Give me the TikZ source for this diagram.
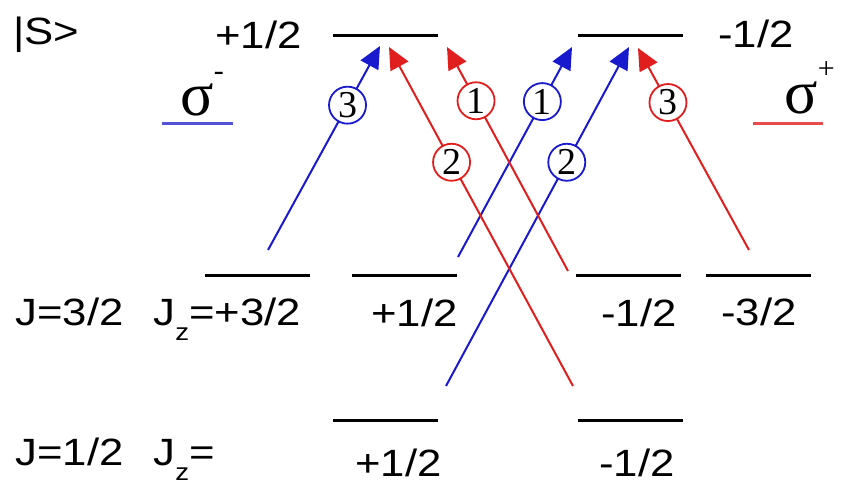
\documentclass[tikz,border=0pt]{standalone}
\usepackage{fontspec}
\setmainfont{Liberation Sans}[FakeStretch=1.15]
\newfontfamily\serifgr{Liberation Serif}
\usetikzlibrary{arrows.meta}
\definecolor{sminus}{RGB}{25,25,205}
\definecolor{splus}{RGB}{225,30,30}

\begin{document}
\begin{tikzpicture}[x=0.5pt,y=-0.5pt,>={Triangle[length=11pt,width=10pt]},
  lvl/.style={fill=black,minimum width=52.5pt,minimum height=1.5pt,inner sep=0pt,outer sep=0pt},
  lab/.style={anchor=base west,inner sep=0pt,font=\fontsize{19}{22}\selectfont},
  sig/.style={anchor=base west,inner sep=0pt,font=\serifgr\fontsize{31}{31}\selectfont},
  num/.style={circle,draw,line width=0.9pt,fill=white,text=black,minimum size=18.5pt,inner sep=0pt,font=\serifgr\fontsize{19}{19}\selectfont},
  tr/.style={line width=1pt}]
\fill[white] (0,0) rectangle (842,487);
\useasboundingbox (0,0) rectangle (842,487);
\node[lvl] (sp) at (385.5,35) {};
\node[lvl] (sm) at (630,35) {};
\node[lvl] (p3) at (257.5,275) {};
\node[lvl] (p1) at (404.5,275) {};
\node[lvl] (m1) at (628,275) {};
\node[lvl] (m3) at (758,275) {};
\node[lvl] (lp) at (385.5,420) {};
\node[lvl] (lm) at (630,420) {};
\node[lab] (ket) at (13,45) {|S>};
\node[lab] (tsp) at (215,48) {+1/2};
\node[lab] (tsm) at (718,47) {-1/2};
\node[lab] (j3) at (15,325) {J=3/2};
\node[lab] (jz3) at (153,325) {J\raisebox{-0.4em}{\fontsize{12}{12}\selectfont z}=+3/2};
\node[lab] (tp1) at (371,326) {+1/2};
\node[lab] (tm1) at (601,326) {-1/2};
\node[lab] (tm3) at (721,325) {-3/2};
\node[lab] (j1) at (15,465) {J=1/2};
\node[lab] (jz1) at (153,465) {J\raisebox{-0.4em}{\fontsize{12}{12}\selectfont z}=};
\node[lab] (tlp) at (355,476) {+1/2};
\node[lab] (tlm) at (599,476) {-1/2};
\node[sig] (sgm) at (180,115) {σ\raisebox{0.55em}{\fontsize{15}{15}\selectfont -}};
\node[sig] (sgp) at (784,113) {σ\raisebox{0.55em}{\fontsize{15}{15}\selectfont +}};
\draw[sminus!75!white,line width=1.5pt] (162,123) -- (233,123);
\draw[splus!80!white,line width=1.5pt] (753,123) -- (823,123);
\coordinate (b3s) at (268,250); \coordinate (b3e) at (380,46);
\coordinate (b1s) at (458,257); \coordinate (b1e) at (572,47);
\coordinate (b2s) at (446,386); \coordinate (b2e) at (629,47);
\coordinate (r2s) at (573,386); \coordinate (r2e) at (389,47);
\coordinate (r1s) at (568,271); \coordinate (r1e) at (447,47);
\coordinate (r3s) at (749,250); \coordinate (r3e) at (638,48);
\draw[->,tr,sminus] (b3s) -- node[num,pos=.71] {3} (b3e);
\draw[->,tr,sminus] (b1s) -- node[num,pos=.74] {1} (b1e);
\draw[->,tr,sminus] (b2s) -- node[num,pos=.66] {2} (b2e);
\draw[->,tr,splus] (r2s) -- node[num,pos=.66] {2} (r2e);
\draw[->,tr,splus] (r1s) -- node[num,pos=.76] {1} (r1e);
\draw[->,tr,splus] (r3s) -- node[num,pos=.73] {3} (r3e);
\end{tikzpicture}
\end{document}
